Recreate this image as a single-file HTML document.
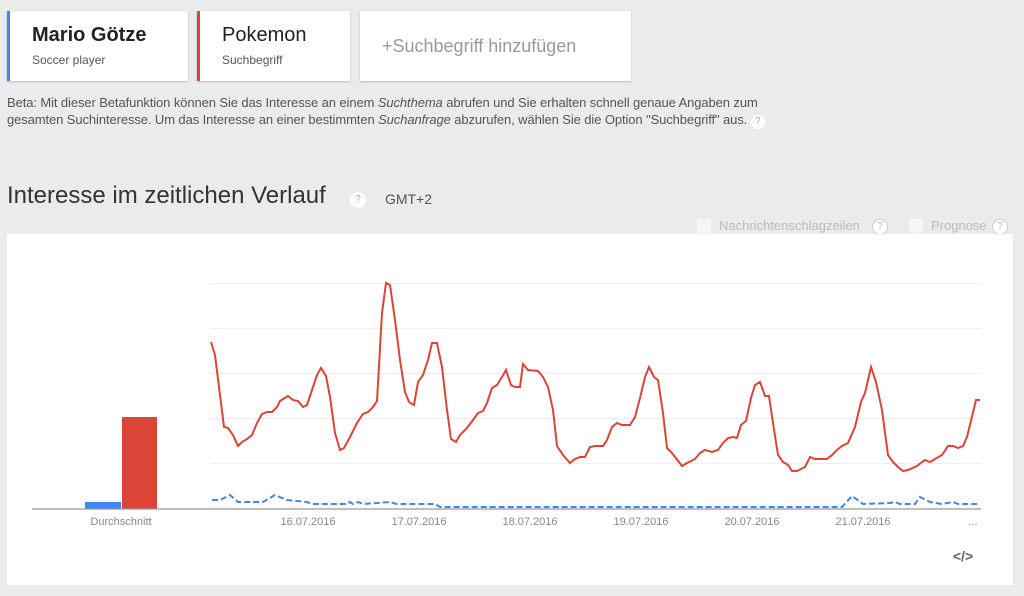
<!DOCTYPE html>
<html><head><meta charset="utf-8"><style>
body{margin:0;width:1024px;height:596px;background:#ecebeb;font-family:"Liberation Sans",sans-serif;position:relative;overflow:hidden}
.card{position:absolute;top:11px;height:70px;background:#fff;box-shadow:0 1px 2px rgba(0,0,0,.2)}
.t{position:absolute;left:22px;top:13px;font-size:20px;color:#222}
.s{position:absolute;left:22px;top:42px;font-size:12px;color:#555}
.a{position:absolute;color:#666}
</style></head><body>
<div class="card" style="left:7px;width:178px;border-left:3px solid #4285f4"><div class="t" style="font-weight:bold">Mario Götze</div><div class="s">Soccer player</div></div>
<div class="card" style="left:197px;width:150px;border-left:3px solid #db4437"><div class="t">Pokemon</div><div class="s">Suchbegriff</div></div>
<div class="card" style="left:360px;width:271px"><div class="t" style="color:#999;font-size:18px;top:25px">+Suchbegriff hinzufügen</div></div>
<div class="a" style="left:7px;top:94px;font-size:13px;line-height:17px;color:#555;letter-spacing:-0.1px">Beta: Mit dieser Betafunktion können Sie das Interesse an einem <i>Suchthema</i> abrufen und Sie erhalten schnell genaue Angaben zum<br>gesamten Suchinteresse. Um das Interesse an einer bestimmten <i>Suchanfrage</i> abzurufen, wählen Sie die Option "Suchbegriff" aus. <span style="display:inline-block;width:14px;height:14px;border-radius:7px;background:#fff;color:#aaa;font-size:10px;text-align:center;line-height:14px">?</span></div>
<div class="a" style="left:7px;top:182px;font-size:24px;color:#333">Interesse im zeitlichen Verlauf</div>
<div class="a" style="left:350px;top:192px;width:16px;height:16px;border-radius:8px;background:#fff;color:#aaa;font-size:10px;text-align:center;line-height:16px">?</div>
<div class="a" style="left:385px;top:191px;font-size:14px;color:#555">GMT+2</div>
<div class="a" style="left:697px;top:219px;width:14px;height:14px;background:#f6f6f6"></div>
<div class="a" style="left:719px;top:218px;font-size:13px;color:#bbb">Nachrichtenschlagzeilen</div>
<div class="a" style="left:872px;top:219px;width:14px;height:14px;border-radius:8px;border:1px solid #ccc;font-size:10px;color:#bbb;text-align:center;line-height:14px;background:#fff">?</div>
<div class="a" style="left:909px;top:219px;width:14px;height:14px;background:#f6f6f6"></div>
<div class="a" style="left:931px;top:218px;font-size:13px;color:#bbb">Prognose</div>
<div class="a" style="left:992px;top:219px;width:14px;height:14px;border-radius:8px;border:1px solid #ccc;font-size:10px;color:#bbb;text-align:center;line-height:14px;background:#fff">?</div>
<div class="a" style="left:7px;top:234px;width:1006px;height:351px;background:#fff"></div>
<svg class="a" style="left:0;top:0" width="1024" height="596">
<g stroke="#eee" stroke-width="1"><line x1="210" x2="981" y1="283.5" y2="283.5"/><line x1="210" x2="981" y1="328.5" y2="328.5"/><line x1="210" x2="981" y1="373.5" y2="373.5"/><line x1="210" x2="981" y1="418.5" y2="418.5"/><line x1="210" x2="981" y1="463.5" y2="463.5"/></g>
<rect x="85" y="502" width="36" height="7" fill="#4285f4"/><rect x="122" y="417" width="35" height="92" fill="#db4437"/>
<line x1="32" x2="981" y1="509" y2="509" stroke="#999" stroke-width="1.2"/>
<polyline fill="none" stroke="#4285f4" stroke-width="2" stroke-dasharray="6,3" points="212,500 220,500 230,495 238,502 263,502 275,495 287,500 307,502 312,504 347,504 350,502 353,504 358,502 363,504 390,502 397,504 435,504 440,507 842,507 852,496 863,504 890,503 895,502 900,504 915,504 920,497 930,502 942,504 953,502 958,504 980,504"/>
<polyline fill="none" stroke="#db4437" stroke-width="2" points="211,342 215,355 224,427 228,428 233,435 238,446 242,442 247,439 252,435 257,423 262,414 267,412 272,412 277,407 280,401 288,396 293,400 298,401 303,407 307,405 312,390 317,375 321,368 326,376 330,397 335,433 340,450 344,448 350,437 357,423 363,414 368,412 373,407 377,401 382,313 386,283 390,285 395,320 400,360 405,392 409,402 414,405 418,382 423,375 428,360 432,343 437,343 442,367 447,410 451,439 456,442 460,435 467,428 473,420 478,413 483,411 487,403 492,388 497,385 502,377 506,370 511,385 515,387 520,387 523,364 528,370 538,371 543,377 548,387 553,410 557,446 563,455 570,463 575,459 580,457 585,457 590,447 595,446 603,446 607,440 612,427 617,423 622,425 630,425 635,417 640,398 645,377 649,367 654,377 658,380 663,413 667,448 672,453 682,466 687,463 695,459 700,453 705,450 712,452 718,450 723,443 728,438 733,437 737,438 741,425 746,421 751,398 755,385 760,382 765,396 769,396 773,423 778,455 783,462 788,465 792,471 797,471 805,467 810,457 815,459 827,459 832,455 837,450 842,446 848,443 855,427 861,402 865,393 871,367 876,382 882,410 888,455 893,462 898,467 903,471 908,470 917,466 922,462 925,460 930,462 935,459 942,455 948,446 953,446 958,448 963,446 967,437 976,400 980,400"/>
<g font-family="Liberation Sans, sans-serif" font-size="11" fill="#888" text-anchor="middle">
<text x="121" y="525">Durchschnitt</text><text x="308" y="525">16.07.2016</text><text x="419" y="525">17.07.2016</text><text x="530" y="525">18.07.2016</text><text x="641" y="525">19.07.2016</text><text x="752" y="525">20.07.2016</text><text x="863" y="525">21.07.2016</text><text x="973" y="525">...</text>
<text x="963" y="561" font-size="14" fill="#666" font-weight="bold">&lt;/&gt;</text></g>
</svg>
</body></html>
